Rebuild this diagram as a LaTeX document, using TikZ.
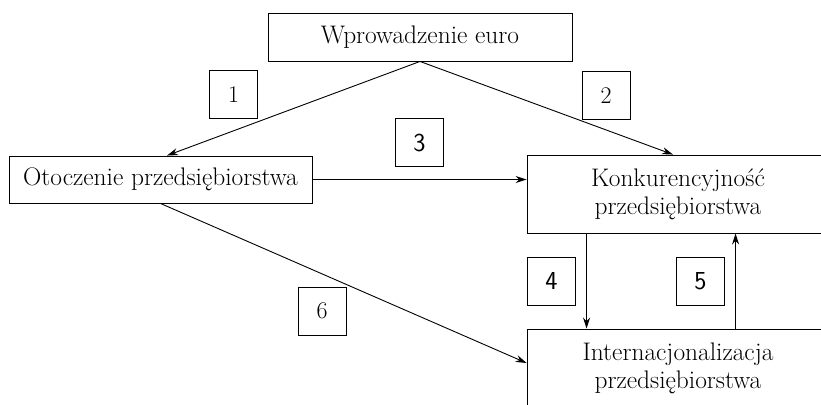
\documentclass[tikz,border=0pt]{standalone}
\usepackage{fontspec}
\usetikzlibrary{arrows.meta,calc}
\begin{document}
\begin{tikzpicture}[x=1bp,y=-1bp,
  box/.style={draw,line width=0.9bp,inner sep=0pt,font=\rmfamily\fontsize{25.5}{28}\selectfont,align=center},
  numbox/.style={draw,line width=0.9bp,inner sep=0pt,minimum width=48bp,minimum height=48bp,font=\rmfamily\fontsize{24}{26}\selectfont},
  sfnum/.style={font=\sffamily\fontsize{26}{28}\selectfont},
  conn/.style={line width=0.9bp,-{Stealth[length=11bp,width=7bp]}}]
\useasboundingbox (0,0) rectangle (821,404);
\clip (0,0) rectangle (821,404);
\node[box,minimum width=304bp,minimum height=48bp] (top) at (420,37) {Wprowadzenie euro};
\node[box,minimum width=303bp,minimum height=47bp] (left) at (160.5,179.5) {Otoczenie przedsiębiorstwa};
\node[box,minimum width=302bp,minimum height=78bp] (konk) at (678,194) {Konkurencyjność\\przedsiębiorstwa};
\node[box,minimum width=302bp,minimum height=78bp] (inter) at (678,368) {Internacjonalizacja\\przedsiębiorstwa};
\node[numbox] (n1) at (233.5,94.5) {1};
\node[numbox] (n2) at (606,95.5) {2};
\node[numbox,sfnum] (n3) at (419.5,142.5) {3};
\node[numbox,sfnum] (n4) at (551.5,281) {4};
\node[numbox,sfnum] (n5) at (700.5,281) {5};
\node[numbox] (n6) at (322,311) {6};
\draw[conn] (top.south) -- ([xshift=6.5bp]left.north);
\draw[conn] (top.south) -- ([xshift=-5bp]konk.north);
\draw[conn] (left.east) -- (left.east -| konk.west);
\draw[conn] ([xshift=60bp]konk.south west) -- ([xshift=60bp]konk.south west |- inter.north);
\draw[conn] ([xshift=209bp]konk.south west |- inter.north) -- ([xshift=209bp]konk.south west);
\draw[conn] (left.south) -- ([yshift=5bp]inter.west);
\end{tikzpicture}
\end{document}
